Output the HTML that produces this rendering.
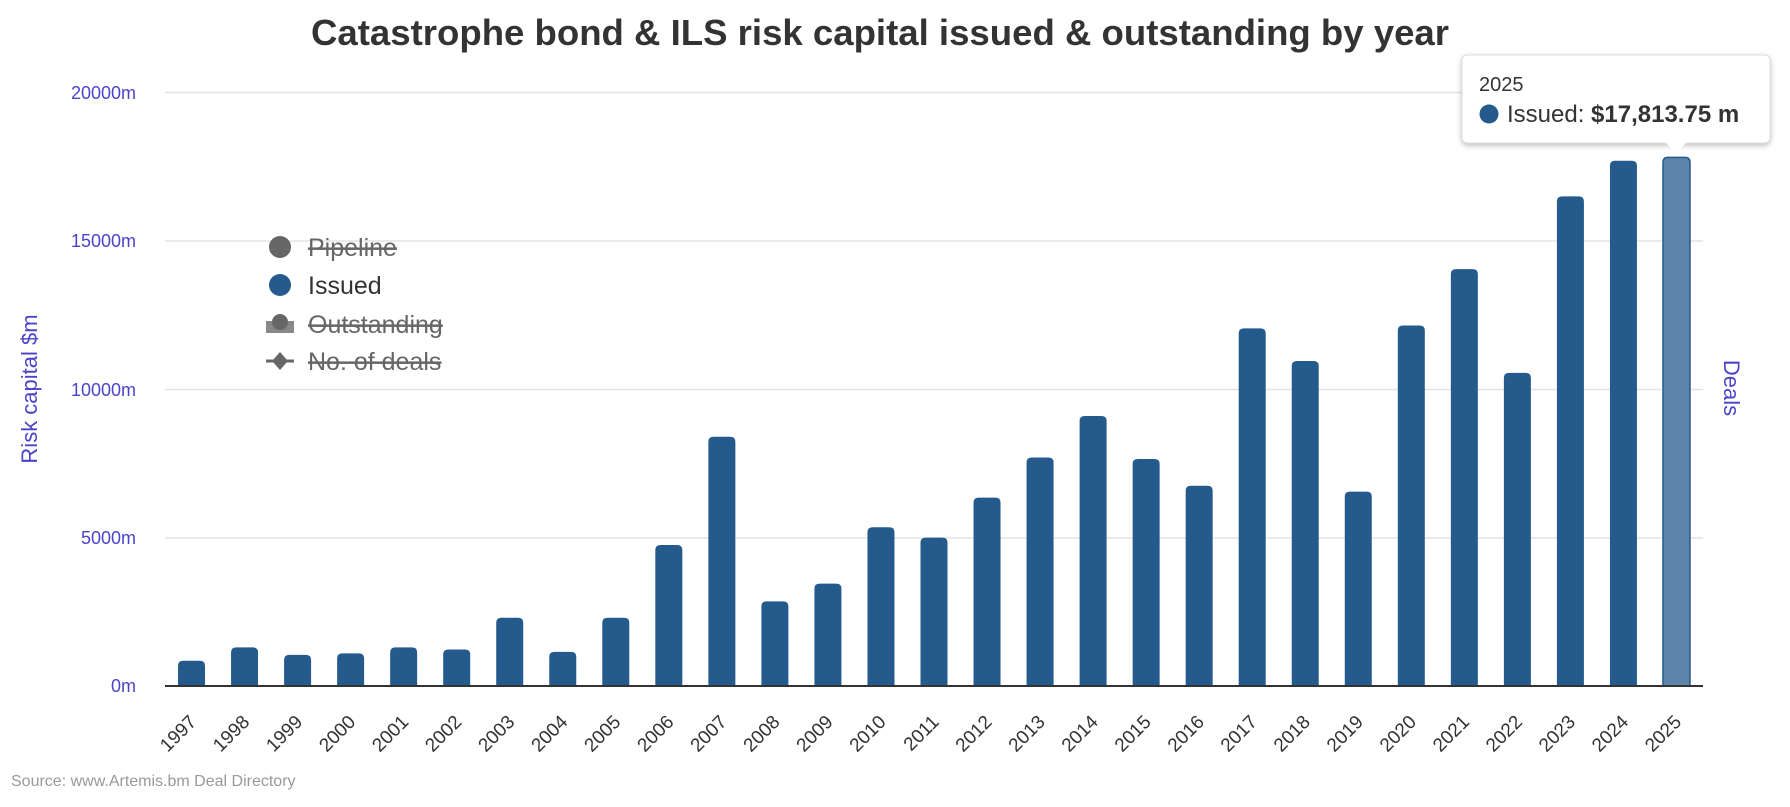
<!DOCTYPE html>
<html><head><meta charset="utf-8"><style>body{margin:0;background:#fff}</style></head><body>
<svg width="1790" height="802" xmlns="http://www.w3.org/2000/svg" font-family="Liberation Sans, sans-serif">
<text x="880" y="45" text-anchor="middle" font-size="36.5" font-weight="bold" fill="#333" textLength="1138" lengthAdjust="spacingAndGlyphs">Catastrophe bond &amp; ILS risk capital issued &amp; outstanding by year</text>
<g stroke="#e3e3e3" stroke-width="1.5">
<line x1="165" x2="1703" y1="92.5" y2="92.5"/><line x1="165" x2="1703" y1="241" y2="241"/><line x1="165" x2="1703" y1="389.5" y2="389.5"/><line x1="165" x2="1703" y1="538" y2="538"/>
</g>
<g font-size="18" fill="#4b44c8" text-anchor="end">
<text x="136" y="99">20000m</text><text x="136" y="247">15000m</text><text x="136" y="396">10000m</text><text x="136" y="544">5000m</text><text x="136" y="692">0m</text>
</g>
<text transform="translate(37,389) rotate(-90)" text-anchor="middle" font-size="22" fill="#4b44c8">Risk capital $m</text>
<text transform="translate(1724,388) rotate(90)" text-anchor="middle" font-size="22" fill="#4b44c8">Deals</text>
<g id="bars"></g>
<line x1="165" x2="1703" y1="686" y2="686" stroke="#333" stroke-width="2"/>
<g id="xl" font-size="19" fill="#333"></g>
<g font-size="25">
<circle cx="280" cy="247" r="11" fill="#666"/><text x="308" y="256" fill="#666" text-decoration="line-through">Pipeline</text>
<circle cx="280" cy="285" r="11" fill="#245b8c"/><text x="308" y="294" fill="#333">Issued</text>
<rect x="266" y="321" width="28" height="12" fill="#888"/><circle cx="280" cy="322" r="8" fill="#666"/><text x="308" y="333" fill="#666" text-decoration="line-through">Outstanding</text>
<line x1="266" x2="294" y1="361" y2="361" stroke="#666" stroke-width="3"/><path d="M280 352 L288 361 L280 370 L272 361Z" fill="#666"/><text x="308" y="370" fill="#666" text-decoration="line-through">No. of deals</text>
</g>
<text x="11" y="786" font-size="16" fill="#999">Source: www.Artemis.bm Deal Directory</text>
<g>
<rect x="1462" y="55" width="308" height="88" rx="5" fill="#fff" stroke="#ddd" style="filter:drop-shadow(0 2px 3px rgba(0,0,0,.25))"/>
<path d="M1665 142 L1676 153 L1687 142Z" fill="#fff"/>
<text x="1479" y="91" font-size="20" fill="#333">2025</text>
<circle cx="1489" cy="114" r="9.5" fill="#245b8c"/>
<text x="1507" y="122" font-size="24" fill="#333">Issued: <tspan font-weight="bold">$17,813.75 m</tspan></text>
</g>
</svg>
<script>
var v=[850,1300,1050,1100,1300,1230,2300,1150,2300,4750,8400,2850,3450,5350,5000,6350,7700,9100,7650,6750,12050,10950,6550,12150,14050,10550,16500,17700,17814];
var b='',t='',cw=(1703-165)/29;
v.forEach(function(d,i){var cx=165+cw*(i+0.5),h=d/20000*593.5,y=686-h,last=i==28;
b+='<path d="M'+(cx-13.5)+' 686 V'+(y+5)+' q0 -5 5 -5 h17 q5 0 5 5 V686Z" fill="'+(last?'#5d84aa':'#245b8c')+'"'+(last?' stroke="#245b8c" stroke-width="1.5"':'')+'/>';
t+='<text transform="translate('+(cx+6)+',723) rotate(-45)" text-anchor="end">'+(1997+i)+'</text>';});
document.getElementById('bars').innerHTML=b;document.getElementById('xl').innerHTML=t;
</script>
</body></html>
